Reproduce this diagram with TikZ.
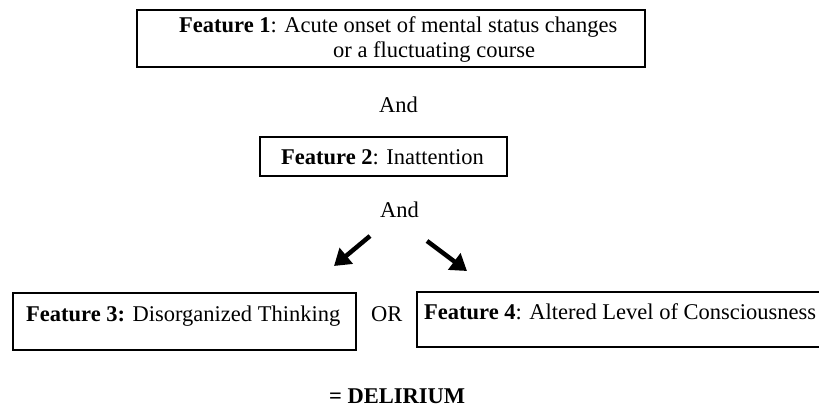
\documentclass[tikz,border=0pt]{standalone}
\usepackage{fontspec}
\setmainfont{Liberation Serif}
\usetikzlibrary{arrows.meta}

\begin{document}
\begin{tikzpicture}[x=1pt,y=-1pt,
    every node/.style={font=\fontsize{22.5}{25.5}\selectfont},
    featbox/.style={draw,line width=1.6pt,inner sep=0pt},
    txt/.style={inner sep=0pt,anchor=base west},
    bigarrow/.style={line width=4.5pt,-{Triangle[length=16pt,width=20pt]}}]
  \def\W{819}
  \def\H{415}

  \clip (0,0) rectangle (\W,\H);

  %------------------
  % 枠
  %------------------

  % Feature 1
  \node[featbox,minimum width=508pt,minimum height=57pt] (f1) at (391,38.5) {};
  \node[txt] (f1a) at (179,32) {\textbf{Feature 1}: Acute onset of mental status changes};
  \node[txt] (f1b) at (333,57) {or a fluctuating course};

  % Feature 2
  \node[featbox,minimum width=247pt,minimum height=39pt] (f2) at (383.5,156.5) {};
  \node[txt] (f2a) at (281,164) {\textbf{Feature 2}: Inattention};

  % Feature 3, 4
  \node[featbox,minimum width=343pt,minimum height=57pt] (f3) at (184.5,321.5) {};
  \node[txt] (f3a) at (26,321) {\textbf{Feature 3:} Disorganized Thinking};
  \node[featbox,minimum width=433pt,minimum height=55pt] (f4) at (633.5,319.5) {};
  \node[txt] (f4a) at (424,319) {\textbf{Feature 4}: Altered Level of Consciousness};

  %------------------
  % ことば
  %------------------
  \node[txt] (and1) at (379,112) {And};
  \node[txt] (and2) at (380,217) {And};
  \node[txt] (or) at (371,321) {OR};
  \node[txt] (res) at (329,403) {\textbf{= DELIRIUM}};

  %------------------
  % 矢印
  %------------------
  \coordinate (la0) at (370,236);
  \coordinate (la1) at (334,266);
  \coordinate (ra0) at (427,241);
  \coordinate (ra1) at (467,271);
  \draw[bigarrow] (la0) -- (la1);
  \draw[bigarrow] (ra0) -- (ra1);
\end{tikzpicture}
\end{document}
